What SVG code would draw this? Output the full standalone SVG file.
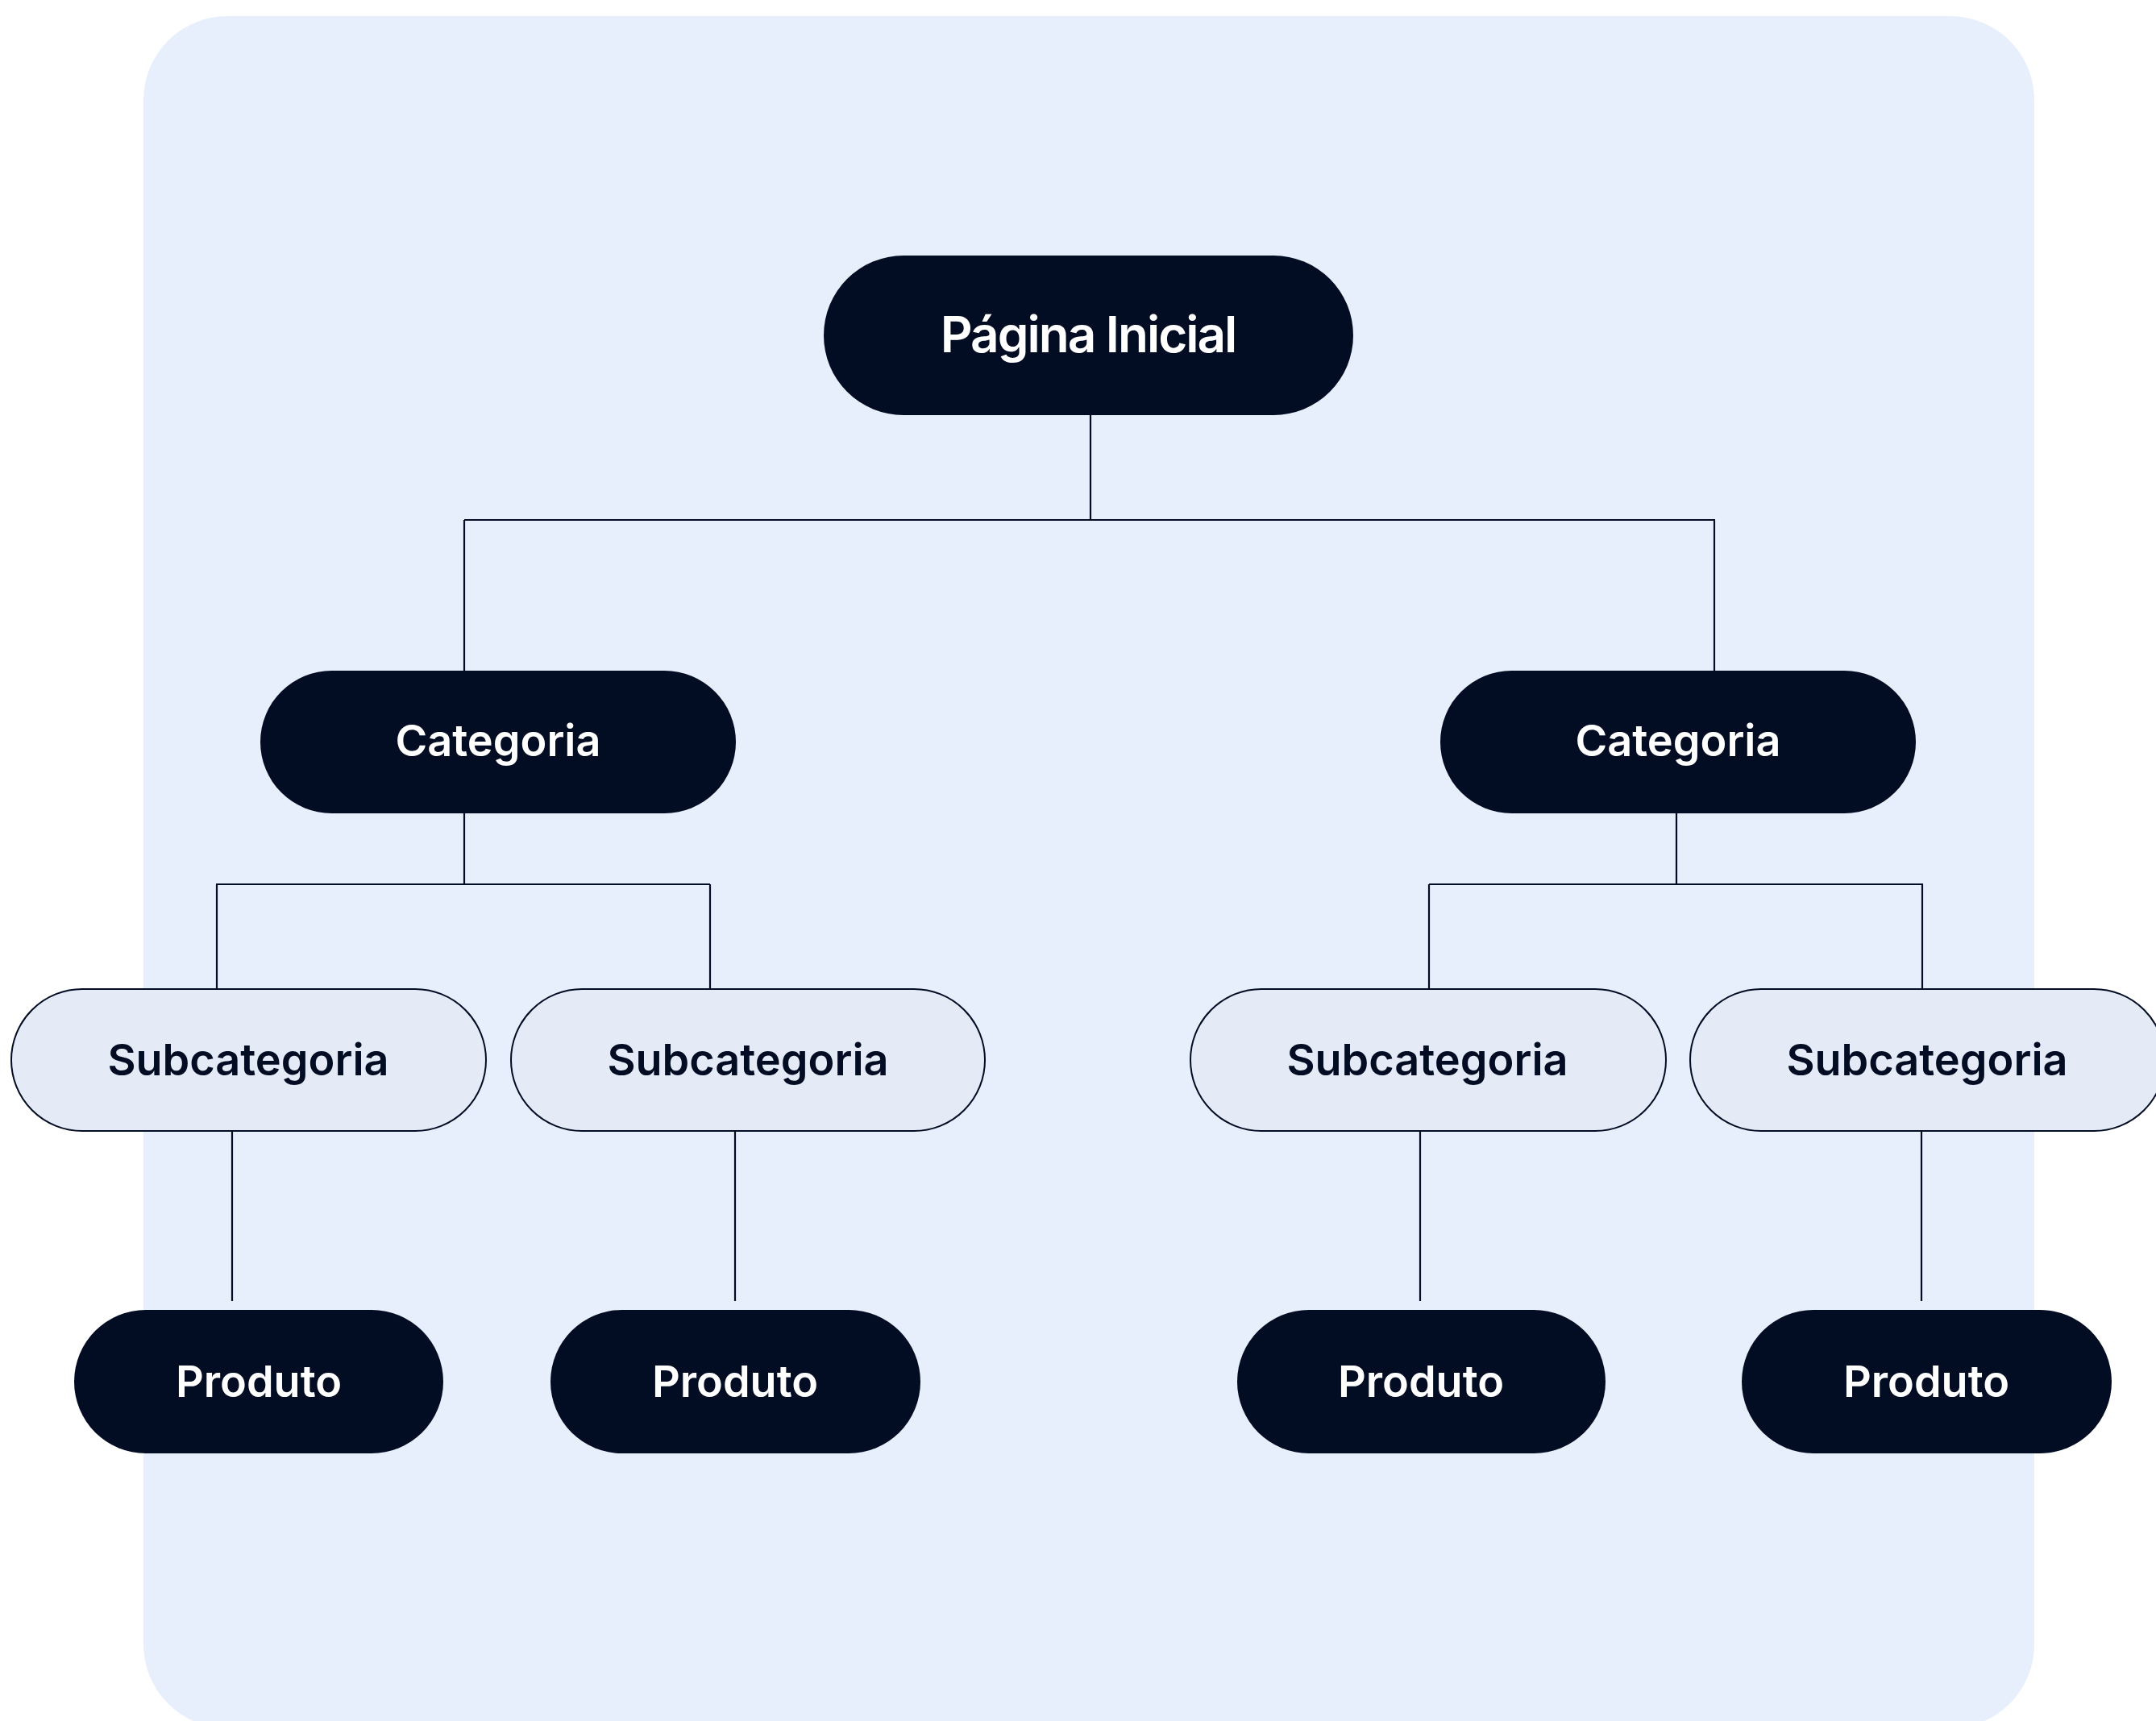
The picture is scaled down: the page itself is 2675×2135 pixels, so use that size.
<svg xmlns="http://www.w3.org/2000/svg" width="2675" height="2135" viewBox="0 0 2675 2135">
<style>
.dark{fill:#020c23}
.light{fill:#e4ebf7;stroke:#020c23;stroke-width:2}
.lw{fill:#ffffff;font-family:Inter,"Open Sans",sans-serif;font-weight:600;text-anchor:middle}
.ld{fill:#020c23;font-family:Inter,"Open Sans",sans-serif;font-weight:600;text-anchor:middle}
.conn line{stroke:#020c23;stroke-width:2.2}
</style>
<rect x="178" y="20" width="2346" height="2124" rx="104" fill="#e8effc"/>
<g class="conn">
<line x1="1353" y1="515" x2="1353" y2="645"/>
<line x1="576" y1="645" x2="2128" y2="645"/>
<line x1="576" y1="645" x2="576" y2="832"/>
<line x1="2127" y1="645" x2="2127" y2="832"/>
<line x1="576" y1="1009" x2="576" y2="1097"/>
<line x1="268" y1="1097" x2="881" y2="1097"/>
<line x1="269" y1="1097" x2="269" y2="1227"/>
<line x1="881" y1="1097" x2="881" y2="1227"/>
<line x1="2080" y1="1009" x2="2080" y2="1097"/>
<line x1="1773" y1="1097" x2="2386" y2="1097"/>
<line x1="1773" y1="1097" x2="1773" y2="1227"/>
<line x1="2385" y1="1097" x2="2385" y2="1227"/>
<line x1="288" y1="1403" x2="288" y2="1614"/>
<line x1="912" y1="1403" x2="912" y2="1614"/>
<line x1="1762" y1="1403" x2="1762" y2="1614"/>
<line x1="2384" y1="1403" x2="2384" y2="1614"/>
</g>
<g id="home"><rect class="dark" x="1022" y="317" width="657" height="198" rx="99"/><text class="lw" x="1350" y="437" font-size="62" letter-spacing="-2">Página Inicial</text></g>
<g id="cat1"><rect class="dark" x="323" y="832" width="590" height="177" rx="88.5"/><text class="lw" x="618" y="938" font-size="54">Categoria</text></g>
<g id="cat2"><rect class="dark" x="1787" y="832" width="590" height="177" rx="88.5"/><text class="lw" x="2082" y="938" font-size="54">Categoria</text></g>
<g id="sub1"><rect class="light" x="14" y="1227" width="589" height="176" rx="88"/><text class="ld" x="308" y="1334" font-size="54">Subcategoria</text></g>
<g id="sub2"><rect class="light" x="634" y="1227" width="588" height="176" rx="88"/><text class="ld" x="928" y="1334" font-size="54">Subcategoria</text></g>
<g id="sub3"><rect class="light" x="1477" y="1227" width="590" height="176" rx="88"/><text class="ld" x="1771" y="1334" font-size="54">Subcategoria</text></g>
<g id="sub4"><rect class="light" x="2097" y="1227" width="589" height="176" rx="88"/><text class="ld" x="2391" y="1334" font-size="54">Subcategoria</text></g>
<g id="prod1"><rect class="dark" x="92" y="1625" width="458" height="178" rx="89"/><text class="lw" x="321" y="1733" font-size="54">Produto</text></g>
<g id="prod2"><rect class="dark" x="683" y="1625" width="459" height="178" rx="89"/><text class="lw" x="912" y="1733" font-size="54">Produto</text></g>
<g id="prod3"><rect class="dark" x="1535" y="1625" width="457" height="178" rx="89"/><text class="lw" x="1763" y="1733" font-size="54">Produto</text></g>
<g id="prod4"><rect class="dark" x="2161" y="1625" width="459" height="178" rx="89"/><text class="lw" x="2390" y="1733" font-size="54">Produto</text></g>
</svg>
